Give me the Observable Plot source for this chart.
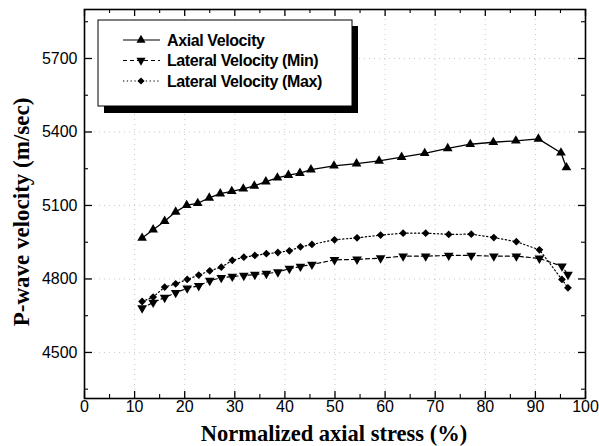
<!DOCTYPE html>
<html>
<head>
<meta charset="utf-8">
<script src="https://cdn.jsdelivr.net/npm/d3@7"></script>
<script src="https://cdn.jsdelivr.net/npm/@observablehq/plot@0.6"></script>
<style>
  html, body { margin: 0; padding: 0; background: #fff; }
  svg { display: block; }
</style>
</head>
<body>
<div id="chart"></div>
<script>
// ---- Data ----
const xAxial = [11.5,13.7,16.0,18.2,20.4,22.6,24.9,27.1,29.4,31.7,33.9,36.2,38.5,40.7,43.0,45.2,49.8,54.3,58.8,63.3,67.9,72.5,77.0,81.6,86.1,90.6,95.1,96.2];
const axialVelocity = [4967,5001,5036,5074,5101,5109,5131,5148,5158,5168,5180,5197,5213,5224,5232,5246,5262,5271,5282,5297,5313,5333,5350,5358,5364,5372,5315,5255];

const xLateral = [11.5,13.7,16.0,18.2,20.5,22.8,25.0,27.3,29.5,31.8,34.0,36.3,38.6,40.9,43.1,45.4,49.9,54.4,59.1,63.6,68.1,72.7,77.2,81.7,86.2,90.8,95.3,96.5];
const lateralMin = [4681,4704,4724,4744,4762,4772,4793,4805,4810,4814,4818,4822,4828,4842,4851,4859,4878,4880,4885,4893,4893,4896,4896,4893,4893,4884,4852,4818];
const lateralMax = [4708,4726,4767,4780,4798,4816,4833,4848,4876,4889,4896,4903,4908,4915,4931,4941,4960,4968,4979,4987,4987,4982,4983,4969,4952,4919,4798,4764];

const seriesNames = ["Axial Velocity", "Lateral Velocity (Min)", "Lateral Velocity (Max)"];
const xTicksMajor = [0,10,20,30,40,50,60,70,80,90,100];
const xTicksMinor = [5,15,25,35,45,55,65,75,85,95];
const yTicksMajor = [4500,4800,5100,5400,5700];
const yTicksMinor = [4350,4650,4950,5250,5550,5850];
const xTitle = "Normalized axial stress (%)";
const yTitle = "P-wave velocity (m/sec)";

const axialData = xAxial.map((x, i) => ({x, y: axialVelocity[i]}));
const minData = xLateral.map((x, i) => ({x, y: lateralMin[i]}));
const maxData = xLateral.map((x, i) => ({x, y: lateralMax[i]}));

// ---- Layout ----
const W = 599, H = 446;
const mL = 84, mR = 14, mT = 9, mB = 48;
const iW = W - mL - mR, iH = H - mT - mB;

const chart = Plot.plot({
  width: W, height: H,
  marginLeft: mL, marginRight: mR, marginTop: mT, marginBottom: mB,
  style: {fontFamily: "'Liberation Sans', Arial, sans-serif", fontSize: "16px", color: "#000", background: "#fff"},
  x: {domain: [0, 100]},
  y: {domain: [4312, 5900]},
  marks: [
    Plot.gridX(xTicksMajor.slice(1, -1), {stroke: "#888", strokeOpacity: 0.45, strokeDasharray: "1,4"}),
    Plot.gridY(yTicksMajor, {stroke: "#888", strokeOpacity: 0.45, strokeDasharray: "1,4"}),
    // inward ticks
    Plot.ruleX(xTicksMajor, {x: d => d, insetTop: iH - 7, stroke: "#000", strokeWidth: 1.3}),
    Plot.ruleX(xTicksMajor, {x: d => d, insetBottom: iH - 7, stroke: "#000", strokeWidth: 1.3}),
    Plot.ruleX(xTicksMinor, {x: d => d, insetTop: iH - 4, stroke: "#000", strokeWidth: 1.1}),
    Plot.ruleX(xTicksMinor, {x: d => d, insetBottom: iH - 4, stroke: "#000", strokeWidth: 1.1}),
    Plot.ruleY(yTicksMajor, {y: d => d, insetRight: iW - 8, stroke: "#000", strokeWidth: 1.3}),
    Plot.ruleY(yTicksMajor, {y: d => d, insetLeft: iW - 7, stroke: "#000", strokeWidth: 1.3}),
    Plot.ruleY(yTicksMinor, {y: d => d, insetRight: iW - 4, stroke: "#000", strokeWidth: 1.1}),
    Plot.ruleY(yTicksMinor, {y: d => d, insetLeft: iW - 4, stroke: "#000", strokeWidth: 1.1}),
    Plot.axisX({ticks: xTicksMajor, tickSize: 0, tickPadding: 2, tickFormat: d => String(d), label: null, fontSize: 16}),
    Plot.axisY({ticks: yTicksMajor, tickSize: 0, tickPadding: 7, tickFormat: d => String(d), label: null, fontSize: 16}),
    Plot.frame({stroke: "#000", strokeWidth: 1.6}),
    // series
    Plot.line(axialData, {x: "x", y: "y", stroke: "#000", strokeWidth: 1.3}),
    Plot.line(minData, {x: "x", y: "y", stroke: "#000", strokeWidth: 1.2, strokeDasharray: "4,3"}),
    Plot.line(maxData, {x: "x", y: "y", stroke: "#000", strokeWidth: 1.2, strokeDasharray: "1.3,2.5"}),
    Plot.dot(axialData, {x: "x", y: "y", symbol: "triangle", r: 3.6, fill: "#000", stroke: "none"}),
    Plot.dot(minData, {x: "x", y: "y", symbol: "triangle", r: 3.6, rotate: 180, fill: "#000", stroke: "none"}),
    Plot.dot(maxData, {x: "x", y: "y", symbol: "diamond2", r: 3.5, fill: "#000", stroke: "none"})
  ]
});

document.getElementById("chart").appendChild(chart);

// ---- Axis titles and legend (layout only) ----
const svg = d3.select(chart);
const serif = "'Liberation Serif', 'Times New Roman', serif";

svg.append("text")
  .attr("x", 334).attr("y", 441)
  .attr("text-anchor", "middle")
  .style("font-family", serif).style("font-weight", "bold").style("font-size", "22.5px")
  .attr("fill", "#000")
  .text(xTitle);

svg.append("text")
  .attr("transform", "translate(29,212) rotate(-90)")
  .attr("text-anchor", "middle")
  .style("font-family", serif).style("font-weight", "bold").style("font-size", "23px")
  .attr("fill", "#000")
  .text(yTitle);

const lg = svg.append("g");
lg.append("rect").attr("x", 104).attr("y", 26).attr("width", 254).attr("height", 87).attr("fill", "#000");
lg.append("rect").attr("x", 98).attr("y", 20).attr("width", 254).attr("height", 86)
  .attr("fill", "#fff").attr("stroke", "#000").attr("stroke-width", 1);

const rows = [
  {name: seriesNames[0], dash: null, sym: d3.symbolTriangle, rot: 0},
  {name: seriesNames[1], dash: "4,3", sym: d3.symbolTriangle, rot: 180},
  {name: seriesNames[2], dash: "1.3,2.5", sym: d3.symbolSquare, rot: 45}
];
rows.forEach((r, i) => {
  const cy = 40 + i * 20.5;
  lg.append("line").attr("x1", 123).attr("x2", 160).attr("y1", cy).attr("y2", cy)
    .attr("stroke", "#000").attr("stroke-width", 1.2)
    .attr("stroke-dasharray", r.dash);
  const size = r.sym === d3.symbolSquare ? 26 : 36;
  lg.append("path").attr("d", d3.symbol(r.sym, size)())
    .attr("transform", `translate(141,${cy}) rotate(${r.rot})`)
    .attr("fill", "#000");
  lg.append("text").attr("x", 167).attr("y", cy).attr("dy", "0.36em")
    .attr("text-anchor", "start")
    .style("font-family", "'Liberation Sans', Arial, sans-serif")
    .style("font-weight", "bold").style("font-size", "16px").style("letter-spacing", "-0.4px")
    .attr("fill", "#000")
    .text(r.name);
});
</script>
</body>
</html>
